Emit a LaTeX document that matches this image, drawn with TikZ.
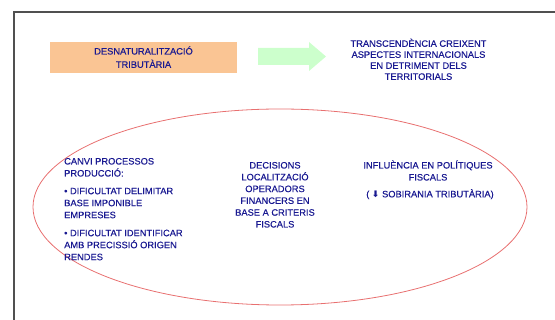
\documentclass[tikz,border=0pt]{standalone}
\usepackage{fontspec}
\usetikzlibrary{shapes.geometric}
\setmainfont[FakeBold=0.35,BoldFont={Liberation Sans}]{Liberation Sans}
\newfontfamily\symfont{DejaVu Sans Bold}
\definecolor{txtblue}{RGB}{25,25,145}
\definecolor{boxorange}{RGB}{250,197,148}
\definecolor{arrowgreen}{RGB}{204,255,204}
\definecolor{ellred}{RGB}{232,112,112}
\definecolor{framegray}{RGB}{80,80,80}
\newcommand{\fl}{\rule{0pt}{9pt}}
\begin{document}
\begin{tikzpicture}[x=1pt,y=-1pt,
  txt/.style={text=txtblue,inner sep=0pt,font=\fontsize{9.3}{12}\selectfont},
  frameline/.style={draw=framegray,line width=1.6pt}]
\useasboundingbox (0,0) rectangle (555,320);
% frame
\coordinate (fbl) at (14,321);
\coordinate (ftl) at (14,12);
\coordinate (ftr) at (556,12);
\draw[frameline] (fbl) -- (ftl) -- (ftr);
% orange box
\node[fill=boxorange,minimum width=187pt,minimum height=31pt,inner sep=0pt] (box) at (143.5,57.5) {};
\node[txt,align=center,anchor=north,font=\fontsize{9.3}{13.3}\selectfont] (boxtxt) at (143.5,45.3) {\fl DESNATURALITZACIÓ\\TRIBUTÀRIA};
% green arrow
\fill[arrowgreen] (258,48) -- (309,48) -- (309,42) -- (326,56.5) -- (309,71) -- (309,65) -- (258,65) -- cycle;
% top-right text
\node[txt,align=center,anchor=north,font=\fontsize{9.3}{11}\selectfont] (trans) at (418.5,37.6)
  {\fl TRANSCENDÈNCIA CREIXENT\\ASPECTES INTERNACIONALS\\EN DETRIMENT DELS\\TERRITORIALS};
% ellipse
\node[draw=ellred,line width=0.8pt,ellipse,minimum width=494pt,minimum height=196pt,inner sep=0pt] (ell) at (280,207) {};
% left block
\node[txt,align=left,anchor=north west] (left) at (64,155.3)
  {\fl CANVI PROCESSOS\\PRODUCCIÓ:\\[5.7pt]
   • DIFICULTAT DELIMITAR\\BASE IMPONIBLE\\EMPRESES\\[6pt]
   • DIFICULTAT IDENTIFICAR\\AMB PRECISSIÓ ORIGEN\\RENDES};
% middle block
\node[txt,align=center,anchor=north,font=\fontsize{9.3}{11.8}\selectfont] (mid) at (275,159.3)
  {\fl DECISIONS\\LOCALITZACIÓ\\OPERADORS\\FINANCERS EN\\BASE A CRITERIS\\FISCALS};
% right block
\node[txt,align=center,anchor=north] (right) at (428,159.3)
  {\fl INFLUÈNCIA EN POLÍTIQUES\\FISCALS};
\node[txt,anchor=base] (sob) at (430,197.3)
  {( {\symfont\fontsize{9}{10}\selectfont ⬇} SOBIRANIA TRIBUTÀRIA)};
\end{tikzpicture}
\end{document}
